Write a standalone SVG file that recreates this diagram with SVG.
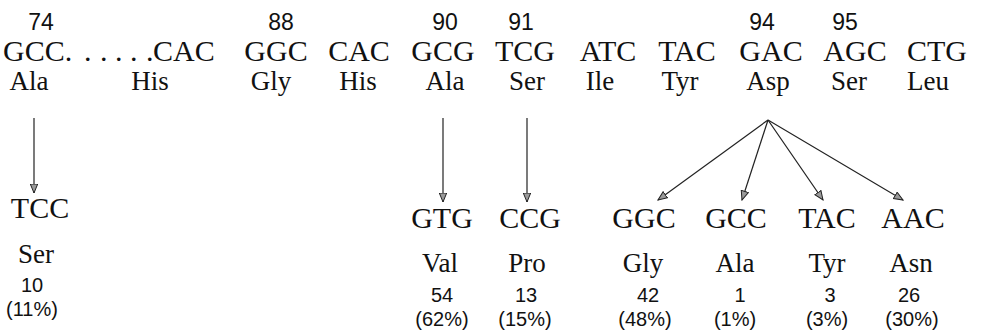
<svg xmlns="http://www.w3.org/2000/svg" width="982" height="333" viewBox="0 0 982 333">
<defs>
<marker id="ah" markerWidth="11" markerHeight="9" refX="9.5" refY="4.5" orient="auto" markerUnits="userSpaceOnUse">
<path d="M0.5,0.8 L9.5,4.5 L0.5,8.2 Z" fill="#9a9a9a" stroke="#222" stroke-width="1"/>
</marker>
</defs>
<style>
.cod{font-family:"Liberation Serif","Times New Roman",serif;font-size:30px;fill:#111;text-anchor:middle}
.aa{font-family:"Liberation Serif","Times New Roman",serif;font-size:27px;fill:#111;text-anchor:middle}
.num{font-family:"Liberation Sans",Arial,sans-serif;font-size:23px;fill:#111;text-anchor:middle}
.cnt{font-family:"Liberation Sans",Arial,sans-serif;font-size:20px;fill:#111;text-anchor:middle}
.arr{stroke:#222;stroke-width:1.2;fill:none;marker-end:url(#ah)}
</style>
<rect width="982" height="333" fill="#fff"/>
<g id="c74">
<text class="num" x="41" y="30">74</text>
<text class="cod" x="3" y="61" style="text-anchor:start">GCC.<tspan x="84">.</tspan><tspan x="100">.</tspan><tspan x="115">.</tspan><tspan x="130">.</tspan><tspan x="146">.</tspan></text>
<text class="aa" x="29" y="90">Ala</text>
</g>
<g id="c87">
<text class="cod" x="153" y="61" style="text-anchor:start">CAC</text>
<text class="aa" x="150" y="90">His</text>
</g>
<g id="c88">
<text class="num" x="281" y="30">88</text>
<text class="cod" x="276" y="61">GGC</text>
<text class="aa" x="271" y="90">Gly</text>
</g>
<g id="c89">
<text class="cod" x="359" y="61">CAC</text>
<text class="aa" x="358" y="90">His</text>
</g>
<g id="c90">
<text class="num" x="445" y="30">90</text>
<text class="cod" x="443" y="61">GCG</text>
<text class="aa" x="445" y="90">Ala</text>
</g>
<g id="c91">
<text class="num" x="521" y="30">91</text>
<text class="cod" x="525" y="61">TCG</text>
<text class="aa" x="527" y="90">Ser</text>
</g>
<g id="c92">
<text class="cod" x="608" y="61">ATC</text>
<text class="aa" x="600" y="90">Ile</text>
</g>
<g id="c93">
<text class="cod" x="687" y="61">TAC</text>
<text class="aa" x="680" y="90">Tyr</text>
</g>
<g id="c94">
<text class="num" x="762" y="30">94</text>
<text class="cod" x="771" y="61">GAC</text>
<text class="aa" x="768" y="90">Asp</text>
</g>
<g id="c95">
<text class="num" x="845" y="30">95</text>
<text class="cod" x="855" y="61">AGC</text>
<text class="aa" x="849" y="90">Ser</text>
</g>
<g id="c96">
<text class="cod" x="937" y="61">CTG</text>
<text class="aa" x="928" y="90">Leu</text>
</g>
<g id="m74">
<text class="cod" x="40" y="218">TCC</text>
<text class="aa" x="36" y="263">Ser</text>
<text class="cnt" x="32" y="292">10</text>
<text class="cnt" x="32" y="316">(11%)</text>
</g>
<g id="m90">
<text class="cod" x="442" y="228">GTG</text>
<text class="aa" x="440" y="272">Val</text>
<text class="cnt" x="442" y="302">54</text>
<text class="cnt" x="442" y="326">(62%)</text>
</g>
<g id="m91">
<text class="cod" x="530" y="228">CCG</text>
<text class="aa" x="527" y="272">Pro</text>
<text class="cnt" x="526" y="302">13</text>
<text class="cnt" x="525" y="326">(15%)</text>
</g>
<g id="m94a">
<text class="cod" x="644" y="228">GGC</text>
<text class="aa" x="643" y="272">Gly</text>
<text class="cnt" x="648" y="302">42</text>
<text class="cnt" x="645" y="326">(48%)</text>
</g>
<g id="m94b">
<text class="cod" x="736" y="228">GCC</text>
<text class="aa" x="735" y="272">Ala</text>
<text class="cnt" x="740" y="302">1</text>
<text class="cnt" x="735" y="326">(1%)</text>
</g>
<g id="m94c">
<text class="cod" x="827" y="228">TAC</text>
<text class="aa" x="827" y="272">Tyr</text>
<text class="cnt" x="830" y="302">3</text>
<text class="cnt" x="827" y="326">(3%)</text>
</g>
<g id="m94d">
<text class="cod" x="913" y="228">AAC</text>
<text class="aa" x="911" y="272">Asn</text>
<text class="cnt" x="909" y="302">26</text>
<text class="cnt" x="912" y="326">(30%)</text>
</g>
<g id="connectors">
<line class="arr" x1="34" y1="118" x2="34" y2="193"/>
<line class="arr" x1="443" y1="118" x2="443" y2="202"/>
<line class="arr" x1="527" y1="118" x2="527" y2="202"/>
<line class="arr" x1="768" y1="120" x2="658" y2="200"/>
<line class="arr" x1="768" y1="120" x2="742" y2="200"/>
<line class="arr" x1="768" y1="120" x2="823" y2="200"/>
<line class="arr" x1="768" y1="120" x2="903" y2="200"/>
</g>
</svg>
